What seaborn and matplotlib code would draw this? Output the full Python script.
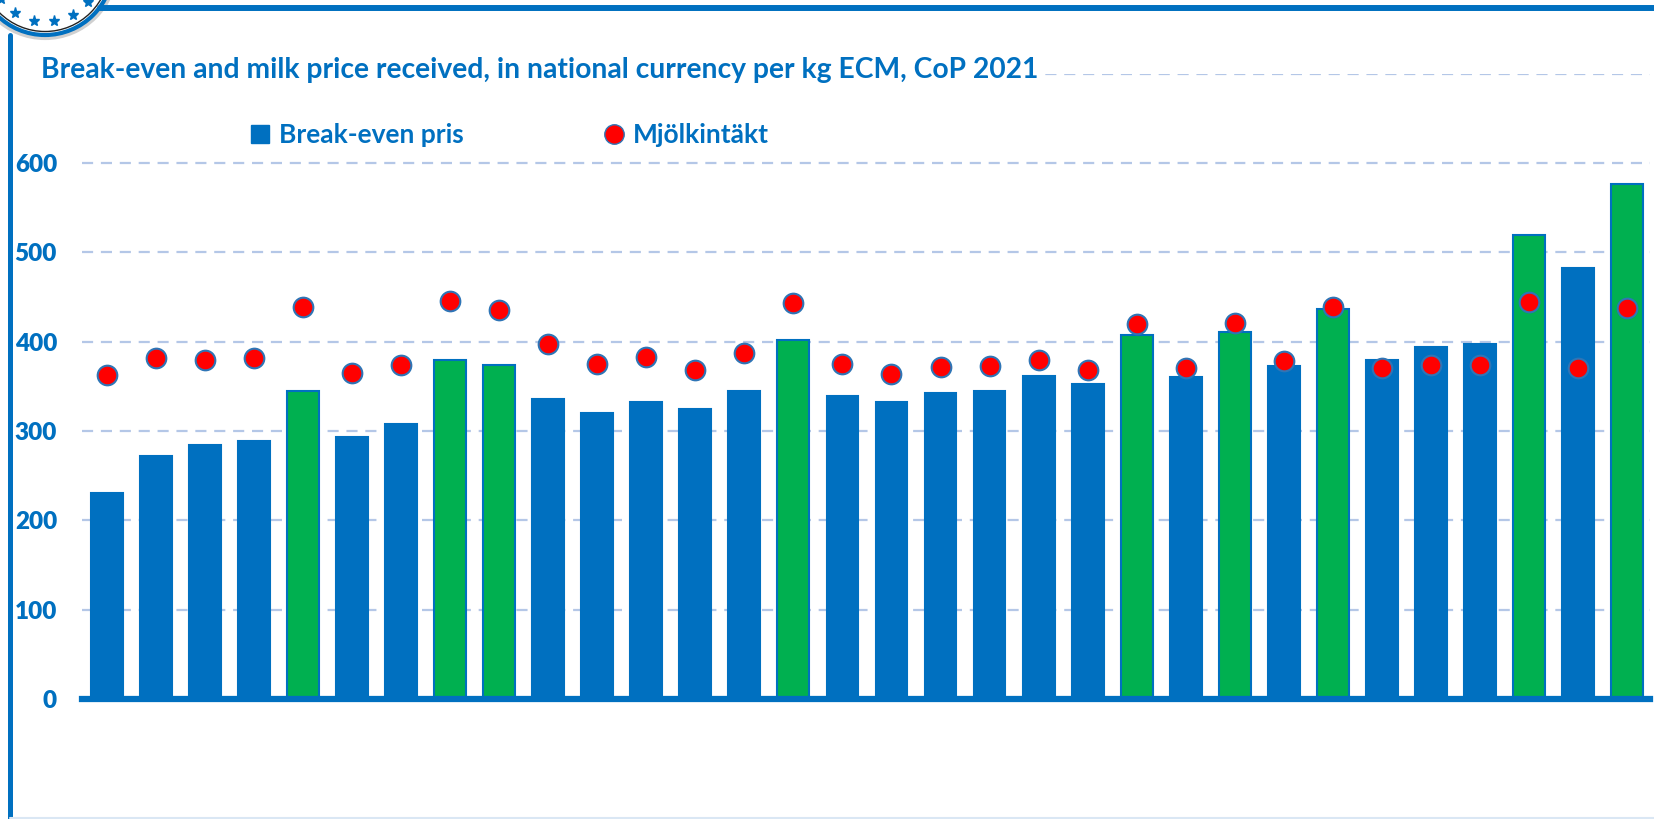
import matplotlib
matplotlib.use('Agg')
import matplotlib.pyplot as plt
from matplotlib.lines import Line2D
from matplotlib.patches import Circle
import seaborn as sns
import numpy as np

# Break-even price and milk price received per farm/country (CoP 2021)
break_even = [231, 272, 284, 289, 345, 293, 308, 379, 374, 336, 320, 333, 325, 345, 402, 339,
              333, 342, 345, 362, 353, 407, 360, 411, 373, 437, 379, 394, 397, 519, 483, 576]
milk_income = [363, 382, 380, 382, 439, 365, 374, 445, 436, 397, 375, 383, 368, 387, 443, 375,
               364, 372, 373, 380, 368, 420, 371, 421, 378, 439, 370, 374, 374, 444, 371, 438]
highlight = [4, 7, 8, 14, 21, 23, 25, 29, 31]  # bars drawn in green
y_ticks = [0, 100, 200, 300, 400, 500, 600, 700]
y_labels = ['0', '100', '200', '300', '400', '500', '600', '']

BLUE = '#0070C0'
GREEN = '#00B050'
RED = '#FF0000'
GRID = '#B4C7E7'
FONT = ['Lato', 'DejaVu Sans']

sns.set_theme(style='white')
plt.rcParams['font.family'] = FONT

W, H = 1654, 819
fig = plt.figure(figsize=(W / 100, H / 100), dpi=100)
ax = fig.add_axes([82 / W, 1 - 699 / H, (1650 - 82) / W, (699 - 73.7) / H])

pos = np.arange(len(break_even))
palette = {i: (GREEN if i in highlight else BLUE) for i in pos}
sns.barplot(x=pos, y=break_even, hue=pos, palette=palette, legend=False, ax=ax,
            width=0.65, edgecolor=BLUE, linewidth=1.5, saturation=1, zorder=2)
sns.scatterplot(x=pos, y=milk_income, ax=ax, s=200, color=RED, edgecolor='#2E75B6',
                linewidth=1.5, zorder=4, legend=False)

ax.set_xlim(-0.51, 31.47)
ax.set_ylim(0, 700)
ax.set_yticks(y_ticks)
ax.set_yticklabels(y_labels)
ax.set_xticks([])
ax.set_xlabel('')
ax.set_ylabel('')
ax.tick_params(axis='y', length=0, pad=18, labelsize=17.5, labelcolor=BLUE)
for lbl in ax.get_yticklabels():
    lbl.set_fontweight('heavy')
ax.yaxis.grid(True, linestyle=(0, (5, 3.5)), color=GRID, linewidth=1.6)
ax.set_axisbelow(True)
for side in ['left', 'right', 'top']:
    ax.spines[side].set_visible(False)
ax.spines['bottom'].set_color(BLUE)
ax.spines['bottom'].set_linewidth(4.5)
ax.spines['bottom'].set_zorder(5)

# title sits on the top gridline with a white box behind it
fig.text(41 / W, 1 - 70 / H, 'Break-even and milk price received, in national currency per kg ECM, CoP 2021',
         fontsize=20.3, fontweight='bold', color=BLUE, va='center', ha='left',
         bbox=dict(facecolor='white', edgecolor='none', pad=3))

handles = [Line2D([], [], marker='s', color=BLUE, linestyle='none', markersize=12.5),
           Line2D([], [], marker='o', color=RED, markeredgecolor='#2E75B6', linestyle='none', markersize=14)]
fig.legend(handles, ['Break-even pris', 'Mjölkintäkt'], loc='center left', bbox_to_anchor=(226 / W, 1 - 135 / H),
           ncol=2, frameon=False, handlelength=0.8, handletextpad=0.3, columnspacing=5.3,
           prop=dict(family=FONT, weight='bold', size=19), labelcolor=BLUE)

# page frame lines
fig.add_artist(Line2D([10 / W, 10 / W], [0, 1 - 35 / H], color=BLUE, linewidth=3.6))
fig.add_artist(Line2D([100 / W, 1], [1 - 8 / H, 1 - 8 / H], color=BLUE, linewidth=4.3))
fig.add_artist(Line2D([10 / W, 1], [1.5 / H, 1.5 / H], color='#DAE7F4', linewidth=1.5))

# logo in the top-left corner
cx, cy = 0.45, (H + 33) / 100
fig.add_artist(Circle((cx, cy), 0.71, transform=fig.dpi_scale_trans, facecolor='white',
                      edgecolor='#D0D0D0', linewidth=3, clip_on=False))
fig.add_artist(Circle((cx, cy), 0.68, transform=fig.dpi_scale_trans, facecolor='white',
                      edgecolor=BLUE, linewidth=3, clip_on=False))
fig.add_artist(Circle((cx, cy), 0.645, transform=fig.dpi_scale_trans, facecolor='none',
                      edgecolor='#222222', linewidth=1, clip_on=False))
ang = np.deg2rad(np.arange(195, 345, 21))
fig.add_artist(Line2D(cx + 0.55 * np.cos(ang), cy + 0.55 * np.sin(ang), transform=fig.dpi_scale_trans,
                      marker='*', markersize=8, color=BLUE, linestyle='none'))

fig.savefig('out.png', dpi=100)
